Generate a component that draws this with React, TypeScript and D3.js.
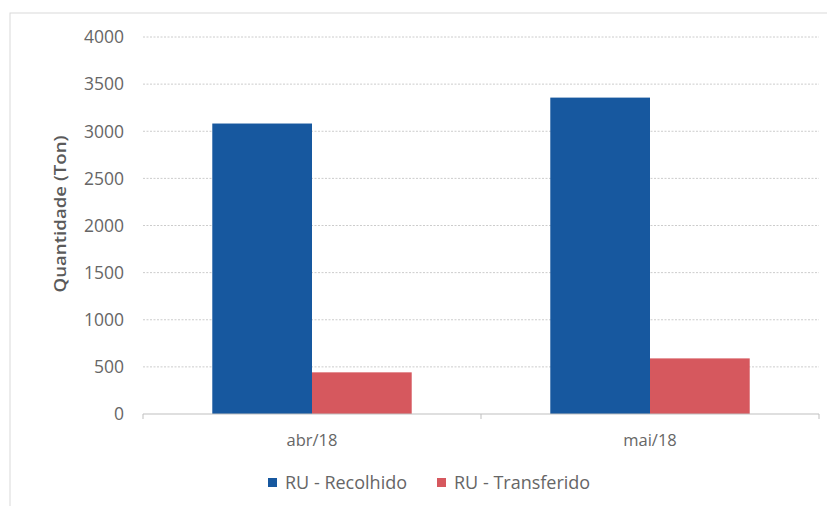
import React from "react";
import * as d3 from "d3";

const categories = ["abr/18", "mai/18"];
const seriesNames = ["RU - Recolhido", "RU - Transferido"];
const recolhido = [3082, 3357];
const transferido = [442, 590];
const yTicks = [0, 500, 1000, 1500, 2000, 2500, 3000, 3500, 4000];
const colors = ["#17589f", "#d6585e"];

const W = 827;
const H = 506;
const margin = { left: 143, right: 8, top: 37, bottom: 92 };
const FONT = "'Open Sans', 'Liberation Sans', sans-serif";

export default function App() {
  const x0 = d3
    .scaleBand<string>()
    .domain(categories)
    .range([margin.left, W - margin.right])
    .paddingInner(0)
    .paddingOuter(0);
  const groupW = x0.bandwidth() * 0.59;
  const x1 = d3
    .scaleBand<string>()
    .domain(seriesNames)
    .range([0, groupW])
    .padding(0);
  const y = d3
    .scaleLinear()
    .domain([0, 4000])
    .range([H - margin.bottom, margin.top]);

  const series = [recolhido, transferido];
  const x0Range = x0.range();
  const boundaries = [x0Range[0], ...categories.map((c) => (x0(c) as number) + x0.bandwidth())];

  return (
    <svg width={W} height={H} style={{ position: "absolute", left: 0, top: 0, background: "#fff" }}>
      <rect x={10} y={13} width={830} height={510} fill="#fff" stroke="#d9d9d9" strokeWidth={1} />
      {yTicks.map((t) => (
        <g key={t}>
          {t !== 0 && (
            <line
              x1={x0Range[0]}
              x2={x0Range[1]}
              y1={y(t)}
              y2={y(t)}
              stroke="#cccccc"
              strokeWidth={1}
              strokeDasharray="2,1.5"
            />
          )}
          <text
            x={124}
            y={y(t)}
            dy="0.36em"
            textAnchor="end"
            fontFamily={FONT}
            fontSize={17.5}
            fill="#666666"
          >
            {t}
          </text>
        </g>
      ))}
      {categories.map((c, i) => (
        <g key={c}>
          {series.map((s, j) => {
            const bx = (x0(c) as number) + (x0.bandwidth() - groupW) / 2 + (x1(seriesNames[j]) as number);
            return (
              <rect
                key={j}
                x={bx}
                y={y(s[i])}
                width={x1.bandwidth()}
                height={y(0) - y(s[i])}
                fill={colors[j]}
              />
            );
          })}
          <text
            x={(x0(c) as number) + x0.bandwidth() / 2}
            y={446}
            textAnchor="middle"
            fontFamily={FONT}
            fontSize={16.5}
            fill="#666666"
          >
            {c}
          </text>
        </g>
      ))}
      <line x1={x0Range[0]} x2={x0Range[1]} y1={y(0)} y2={y(0)} stroke="#bfbfbf" strokeWidth={1} />
      {boundaries.map((b, i) => (
        <line key={i} x1={b} x2={b} y1={y(0)} y2={y(0) + 5} stroke="#bfbfbf" strokeWidth={1} />
      ))}
      <text
        transform={`translate(66, ${214}) rotate(-90)`}
        textAnchor="middle"
        fontFamily={FONT}
        fontSize={16}
        fontWeight={600}
        fill="#5a5a5a"
        textLength={157}
        lengthAdjust="spacingAndGlyphs"
      >
        Quantidade (Ton)
      </text>
      {seriesNames.map((n, j) => {
        const lx = j === 0 ? 268 : 437;
        return (
          <g key={n}>
            <rect x={lx} y={478} width={9} height={9} fill={colors[j]} />
            <text x={lx + 17} y={489} fontFamily={FONT} fontSize={18} fill="#666666">
              {n}
            </text>
          </g>
        );
      })}
    </svg>
  );
}
